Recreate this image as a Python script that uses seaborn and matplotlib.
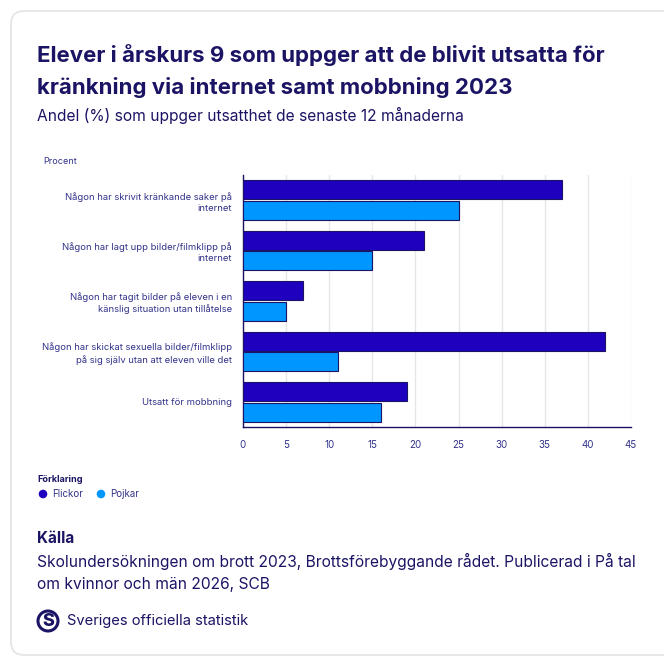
import pandas as pd
import matplotlib.pyplot as plt
import seaborn as sns
from matplotlib.patches import FancyBboxPatch, Circle

# Data
categories = [
    'Någon har skrivit kränkande saker på\ninternet',
    'Någon har lagt upp bilder/filmklipp på\ninternet',
    'Någon har tagit bilder på eleven i en\nkänslig situation utan tillåtelse',
    'Någon har skickat sexuella bilder/filmklipp\npå sig själv utan att eleven ville det',
    'Utsatt för mobbning',
]
flickor = [37, 21, 7, 42, 19]
pojkar = [25, 15, 5, 11, 16]
groups = ['Flickor', 'Pojkar']
xticks = [0, 5, 10, 15, 20, 25, 30, 35, 40, 45]

navy = '#1B1464'
label_col = '#33338A'
colors = {'Flickor': '#1E00BE', 'Pojkar': '#0096FF'}

df = pd.DataFrame({
    'kategori': categories * 2,
    'grupp': ['Flickor'] * len(categories) + ['Pojkar'] * len(categories),
    'procent': flickor + pojkar,
})

sns.set_style('white')
plt.rcParams['font.family'] = ['Inter', 'DejaVu Sans']

fig = plt.figure(figsize=(6.64, 6.63), dpi=100)
W, H = 664, 663

def fx(px):
    return px / W

def fy(py):
    return 1 - py / H

# card background
card = FancyBboxPatch((fx(11), fy(655)), fx(700) - fx(11), fy(11) - fy(655),
                      boxstyle='round,pad=0,rounding_size=0.02',
                      transform=fig.transFigure, facecolor='white',
                      edgecolor='#E3E3E3', linewidth=1.2, zorder=-10)
fig.patches.append(card)

ax = fig.add_axes([fx(243), fy(427), fx(631) - fx(243), fy(175) - fy(427)])
ax.set_facecolor('none')
sns.barplot(data=df, y='kategori', x='procent', hue='grupp', orient='h',
            palette=colors, saturation=1, width=0.82, edgecolor=navy,
            linewidth=0.8, legend=False, ax=ax, zorder=3)

# shrink bars slightly to leave a small gap inside each group
for p in ax.patches:
    h = p.get_height()
    p.set_y(p.get_y() + h * 0.04)
    p.set_height(h * 0.92)

ax.set_xlim(0, 45)
ax.set_ylim(4.5, -0.5)
ax.set_xticks(xticks)
ax.set_xticklabels([str(t) for t in xticks], fontsize=7, color=label_col)
ax.set_yticks(range(len(categories)))
ax.set_yticklabels(categories, fontsize=6.8, color=label_col, linespacing=1.3)
ax.tick_params(axis='y', length=0, pad=8)
ax.set_yticks([i - 0.5 for i in range(len(categories) + 1)], minor=True)
ax.tick_params(axis='y', which='minor', length=4, color=navy, width=1)
ax.tick_params(axis='x', length=4, color=navy, width=1, pad=5)
ax.set_xlabel('')
ax.set_ylabel('')
ax.grid(axis='x', color='#E6E6E6', linewidth=1, zorder=0)
ax.grid(axis='y', visible=False)
ax.set_axisbelow(True)
for s in ['top', 'right']:
    ax.spines[s].set_visible(False)
for s in ['left', 'bottom']:
    ax.spines[s].set_color(navy)
    ax.spines[s].set_linewidth(1)

# texts
fig.text(fx(37), fy(62), 'Elever i årskurs 9 som uppger att de blivit utsatta för',
         fontsize=16, fontweight='bold', color=navy, va='baseline')
fig.text(fx(37), fy(94), 'kränkning via internet samt mobbning 2023',
         fontsize=16, fontweight='bold', color=navy, va='baseline')
fig.text(fx(37), fy(121), 'Andel (%) som uppger utsatthet de senaste 12 månaderna',
         fontsize=11.2, color=navy, va='baseline')
fig.text(fx(43), fy(164), 'Procent', fontsize=6.5, color=label_col, va='baseline')

# legend
fig.text(fx(37), fy(482), 'Förklaring', fontsize=6.5, fontweight='bold',
         color=navy, va='baseline')
for gx, g in [(43, 'Flickor'), (101, 'Pojkar')]:
    fig.patches.append(Circle((fx(gx), fy(494)), 4.3 / W, transform=fig.transFigure,
                              facecolor=colors[g], edgecolor='none'))
    fig.text(fx(gx + 9), fy(494), g, fontsize=7, color=label_col, va='center')

# source
fig.text(fx(37), fy(543), 'Källa', fontsize=11, fontweight='bold',
         color=navy, va='baseline')
fig.text(fx(37), fy(567),
         'Skolundersökningen om brott 2023, Brottsförebyggande rådet. Publicerad i På tal',
         fontsize=11.2, color=navy, va='baseline')
fig.text(fx(37), fy(589), 'om kvinnor och män 2026, SCB',
         fontsize=11.2, color=navy, va='baseline')

# logo
fig.patches.append(Circle((fx(48), fy(621)), 10 / W, transform=fig.transFigure,
                          facecolor='white', edgecolor=navy, linewidth=2.2))
fig.text(fx(48), fy(621.5), 'S', fontsize=13, fontweight='heavy', color=navy,
         ha='center', va='center')
fig.text(fx(67), fy(621), 'Sveriges officiella statistik', fontsize=10.6,
         color=navy, va='center')

fig.savefig('out.png', dpi=100, facecolor='white')
